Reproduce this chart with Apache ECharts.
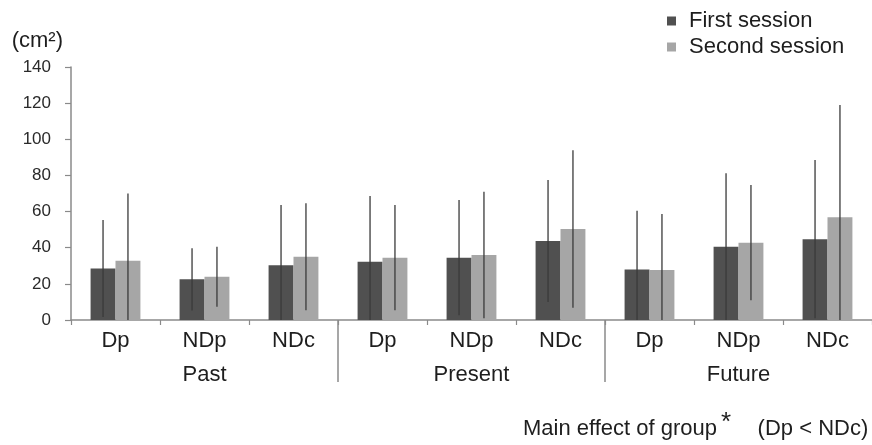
<!DOCTYPE html>
<html>
<head>
<meta charset="utf-8">
<script src="https://cdn.jsdelivr.net/npm/echarts@6/dist/echarts.min.js"></script>
<style>
html,body{margin:0;padding:0;background:#fff;}
#chart{width:872px;height:445px;}
</style>
</head>
<body>
<div id="chart"></div>
<script>
// ---- data ----
var categories = ['Dp', 'NDp', 'NDc', 'Dp', 'NDp', 'NDc', 'Dp', 'NDp', 'NDc'];
var groups = ['Past', 'Present', 'Future'];
var groupSizes = [3, 3, 3];
var seriesNames = ['First session', 'Second session'];
var firstMean = [28.5, 22.5, 30.3, 32.3, 34.5, 43.7, 28.0, 40.6, 44.7];
var firstSD = [26.8, 17.2, 33.3, 36.3, 31.9, 33.8, 32.5, 40.6, 43.8];
var secondMean = [32.8, 24.0, 35.0, 34.5, 36.0, 50.4, 27.7, 42.8, 56.8];
var secondSD = [37.2, 16.6, 29.6, 29.1, 35.0, 43.6, 31.0, 31.9, 62.2];
var yTicks = [0, 20, 40, 60, 80, 100, 120, 140];
var yUnit = '(cm²)';
var noteText = 'Main effect of group';
var noteStar = '*';
var noteComparison = '(Dp < NDc)';

// ---- build ----
var FONT = 'Liberation Sans, Arial, sans-serif';
var BAR_FRAC = 0.28;
var darkColor = '#505050';
var lightColor = '#a6a6a6';

function errData(means, sds) {
  return means.map(function (m, i) { return [i, m, sds[i]]; });
}
function errRender(sign) {
  return function (params, api) {
    var xi = api.value(0), m = api.value(1), sd = api.value(2);
    var band = api.size([1, 0])[0];
    var off = sign * band * BAR_FRAC / 2;
    var top = api.coord([xi, m + sd]);
    var bot = api.coord([xi, Math.max(0, m - sd)]);
    return {
      type: 'line',
      shape: { x1: top[0] + off, y1: top[1], x2: bot[0] + off, y2: bot[1] },
      style: { stroke: '#3a3a3a', lineWidth: 1.3 }
    };
  };
}
// group boundary indices
var boundaries = [];
var acc = 0;
for (var g = 0; g < groupSizes.length - 1; g++) { acc += groupSizes[g]; boundaries.push([acc - 1, acc]); }

var chart = echarts.init(document.getElementById('chart'));
chart.setOption({
  animation: false,
  textStyle: { fontFamily: FONT },
  grid: { left: 71, right: -6, top: 67, bottom: 125 },
  legend: {
    orient: 'vertical', left: 662, top: 5,
    itemWidth: 9, itemHeight: 9, itemGap: 4,
    icon: 'rect',
    data: seriesNames,
    textStyle: { fontSize: 22, color: '#1e1e1e', fontFamily: FONT, padding: [0, 0, 0, 8] }
  },
  xAxis: [{
    type: 'category', data: categories, position: 'bottom',
    axisLine: { lineStyle: { color: '#8a8a8a', width: 1.5 } },
    axisTick: { show: true, length: 5, lineStyle: { color: '#8a8a8a', width: 1.2 } },
    axisLabel: { fontSize: 22, color: '#1e1e1e', margin: 10, fontFamily: FONT }
  }, {
    type: 'category', data: groups, position: 'bottom', offset: 0,
    axisLine: { show: false }, axisTick: { show: false },
    axisLabel: { fontSize: 22, color: '#1e1e1e', margin: 44, fontFamily: FONT }
  }],
  yAxis: {
    type: 'value', min: yTicks[0], max: yTicks[yTicks.length - 1], interval: yTicks[1] - yTicks[0],
    name: yUnit, nameLocation: 'end', nameGap: 15,
    nameTextStyle: { fontSize: 22, color: '#1e1e1e', align: 'right', verticalAlign: 'bottom', padding: [0, 8, 0, 0], fontFamily: FONT },
    axisLine: { show: true, lineStyle: { color: '#8a8a8a', width: 1.5 } },
    axisTick: { show: true, length: 6, lineStyle: { color: '#8a8a8a', width: 1.2 } },
    axisLabel: { fontSize: 17, color: '#2a2a2a', margin: 20, fontFamily: FONT },
    splitLine: { show: false }
  },
  series: [{
    name: seriesNames[0], type: 'bar', data: firstMean,
    barWidth: (BAR_FRAC * 100) + '%', barGap: '0%',
    itemStyle: { color: darkColor }
  }, {
    name: seriesNames[1], type: 'bar', data: secondMean,
    barWidth: (BAR_FRAC * 100) + '%', barGap: '0%',
    itemStyle: { color: lightColor }
  }, {
    type: 'custom', data: errData(firstMean, firstSD), renderItem: errRender(-1), z: 5,
    encode: { x: 0, y: 1 }, silent: true, clip: false
  }, {
    type: 'custom', data: errData(secondMean, secondSD), renderItem: errRender(1), z: 5,
    encode: { x: 0, y: 1 }, silent: true, clip: false
  }, {
    type: 'custom', data: boundaries, z: 6, silent: true, clip: false,
    encode: { x: 0 },
    renderItem: function (params, api) {
      var a = api.coord([api.value(0), 0]);
      var b = api.coord([api.value(1), 0]);
      var x = (a[0] + b[0]) / 2;
      return {
        type: 'line',
        shape: { x1: x, y1: a[1], x2: x, y2: a[1] + 62 },
        style: { stroke: '#8a8a8a', lineWidth: 1.5 }
      };
    }
  }],
  graphic: [{
    type: 'text', left: 523, top: 410,
    style: {
      text: noteText + '{s|' + noteStar + '}    ' + noteComparison,
      fontSize: 22, fill: '#1e1e1e', fontFamily: FONT,
      rich: { s: { fontSize: 26, verticalAlign: 'top', padding: [0, 2, 12, 4], fill: '#1e1e1e' } }
    }
  }]
});
</script>
</body>
</html>
